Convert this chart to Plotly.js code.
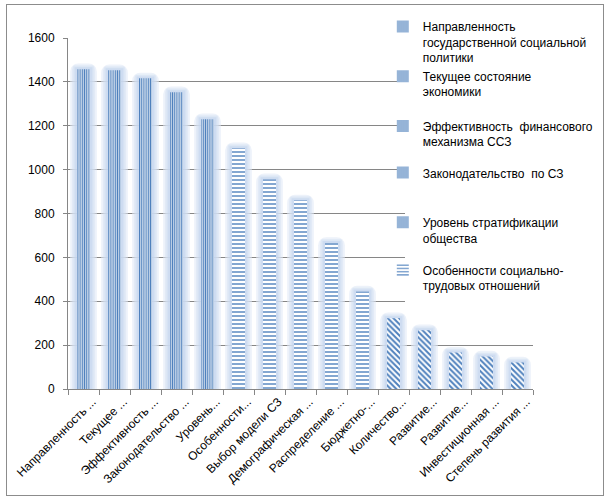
<!DOCTYPE html>
<html>
<head>
<meta charset="utf-8">
<script src="https://cdn.plot.ly/plotly-3.0.1.min.js"></script>
<style>
html,body{margin:0;padding:0;background:#fff;}
#wrap{position:relative;width:611px;height:501px;}
#chart{width:611px;height:501px;}
#frame{position:absolute;left:6px;top:4px;width:596px;height:490px;border:1px solid #8c8c8c;pointer-events:none;}
</style>
</head>
<body>
<div id="wrap"><div id="chart"></div><div id="frame"></div></div>
<script>
// Category tick labels as shown (truncated in the original)
const categories = [
  "Направленность ...", "Текущее ...", "Эффективность ...", "Законодательство ...",
  "Уровень...", "Особенности...", "Выбор модели СЗ", "Демографическая ...",
  "Распределение ...", "Бюджетно-...", "Количество...", "Развитие...",
  "Развитие...\u200B", "Инвестиционная ...", "Степень развития ..."
];
// Values
const values = [1458, 1453, 1416, 1353, 1230, 1098, 956, 860, 666, 445, 323, 268, 166, 148, 121];
// Legend names (first six series)
const legendNames = [
  "Направленность<br>государственной социальной<br>политики",
  "Текущее состояние<br>экономики",
  "Эффективность  финансового<br>механизма ССЗ",
  "Законодательство  по СЗ",
  "Уровень стратификации<br>общества",
  "Особенности социально-<br>трудовых отношений"
];

const BLUE = '#4f81bd';
function patternFor(i){
  if (i < 5) return {shape:'|', fgcolor:BLUE, bgcolor:'#ffffff', size:2.2, solidity:0.6};
  if (i < 10) return {shape:'-', fgcolor:BLUE, bgcolor:'#ffffff', size:4, solidity:0.35};
  return {shape:'\\', fgcolor:BLUE, bgcolor:'#ffffff', size:4, solidity:0.5};
}

const traces = [];
// glow layers
const glow = [
  {w:0.86, add:26, c:'rgba(225,234,246,0.6)', r:8},
  {w:0.72, add:17, c:'rgba(210,224,242,0.6)', r:6},
  {w:0.58, add:9,  c:'rgba(196,214,238,0.6)', r:4}
];
glow.forEach(g => {
  traces.push({
    type:'bar', x:categories, y:values.map(v => v + g.add), width:g.w,
    marker:{color:g.c, line:{width:0}, cornerradius:g.r},
    showlegend:false, hoverinfo:'skip'
  });
});
categories.forEach((c, i) => {
  const inLegend = i < legendNames.length;
  const t = {
    type:'bar', x:[c], y:[values[i]], width:0.42,
    name: inLegend ? legendNames[i] : c,
    showlegend: inLegend,
    marker:{color:BLUE, pattern:patternFor(i), line:{width:0}}
  };
  if (inLegend) t.legend = i === 0 ? 'legend' : 'legend' + (i + 1);
  traces.push(t);
});

const layout = {
  width:611, height:501,
  margin:{l:68, r:78, t:36, b:112},
  paper_bgcolor:'#ffffff', plot_bgcolor:'#ffffff',
  font:{family:'"Liberation Sans", Arial, sans-serif', size:12, color:'#000000'},
  barmode:'overlay',
  showlegend:true,
  xaxis:{
    type:'category', tickangle:-45, ticks:'outside', tickson:'boundaries',
    ticklen:5, tickcolor:'#868686', showline:true, linecolor:'#868686', linewidth:1,
    showgrid:false, tickfont:{size:12, color:'#000'}, ticklabelshift:9, fixedrange:true
  },
  yaxis:{
    range:[0,1600], dtick:200, tick0:0, ticks:'outside', ticklen:4, tickcolor:'#868686',
    showline:true, linecolor:'#868686', gridcolor:'#868686', gridwidth:1, zeroline:false,
    tickfont:{size:12, color:'#000'}, ticklabelstandoff:6, fixedrange:true
  },
  shapes:[{
    type:'rect', xref:'paper', yref:'paper', x0:0.7247, x1:1.0, y0:0.22, y1:1.1,
    fillcolor:'#ffffff', line:{width:0}, layer:'above'
  }]
};
// legend slots (top of each entry, in pixels from the top of the page)
const legendTops = [10, 60, 110, 157, 207, 255];
legendTops.forEach((top, i) => {
  const key = i === 0 ? 'legend' : 'legend' + (i + 1);
  layout[key] = {
    x:0.677, xanchor:'left', y:(389 - top) / 353, yanchor:'top',
    bgcolor:'rgba(0,0,0,0)', font:{size:12, color:'#000'}, valign:'top'
  };
});
Plotly.newPlot('chart', traces, layout, {displayModeBar:false, staticPlot:true});
</script>
</body>
</html>
